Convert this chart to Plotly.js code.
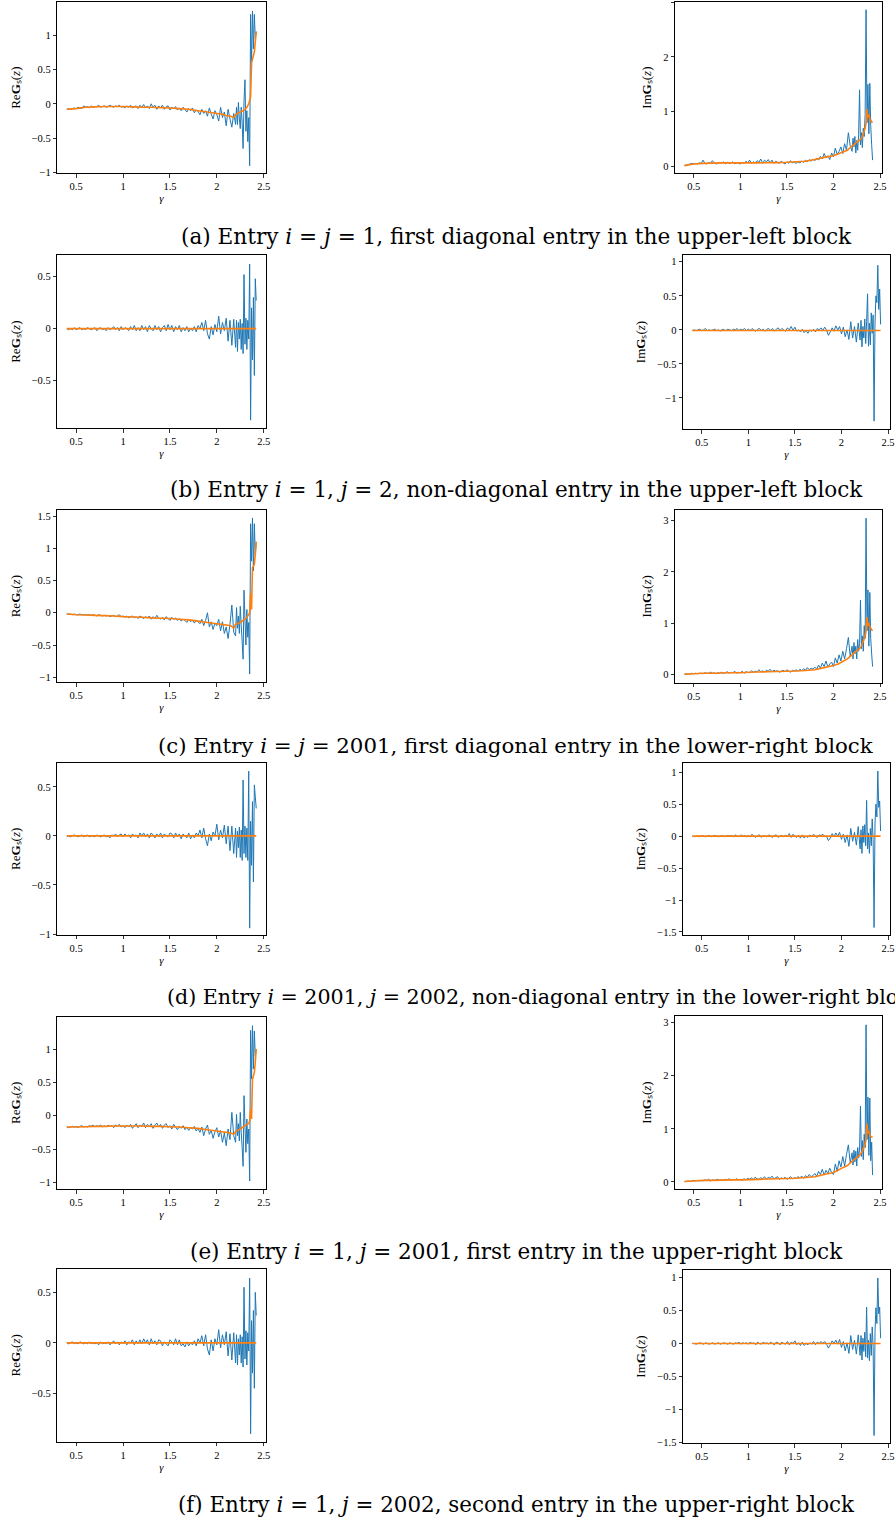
<!DOCTYPE html>
<html><head><meta charset="utf-8">
<script src="https://cdn.plot.ly/plotly-3.0.1.min.js"></script>
<style>html,body{margin:0;padding:0;background:#fff;}#chart{width:895px;height:1522px;}</style>
</head><body><div id="chart"></div>
<script>
// ---------- DATA ----------
const gamma = [
0.40,0.42,0.44,0.46,0.48,0.50,0.52,0.54,0.56,0.58,
0.60,0.62,0.64,0.66,0.68,0.70,0.72,0.74,0.76,0.78,
0.80,0.82,0.84,0.86,0.88,0.90,0.92,0.94,0.96,0.98,
1.00,1.02,1.04,1.06,1.08,1.10,1.12,1.14,1.16,1.18,
1.20,1.22,1.24,1.26,1.28,1.30,1.32,1.34,1.36,1.38,
1.40,1.42,1.44,1.46,1.48,1.50,1.52,1.54,1.56,1.58,
1.60,1.62,1.64,1.66,1.68,1.70,1.72,1.74,1.76,1.78,
1.80,1.82,1.84,1.86,1.88,1.90,1.92,1.94,1.96,1.98,
2.00,2.02,2.04,2.06,2.08,2.10,2.12,2.14,2.16,2.18,
2.20,
2.21,2.22,2.23,2.24,2.25,2.26,2.27,2.28,2.29,2.30,
2.31,2.32,2.33,2.34,2.35,2.36,2.37,2.38,2.39,2.40,2.41,2.42];

const gammaSmooth = [0.40,0.50,0.60,0.70,0.80,0.90,1.00,1.10,1.20,1.30,1.40,1.50,1.60,1.70,1.80,1.90,2.00,2.05,2.10,2.15,2.18,2.20,2.22,2.25,2.28,2.30,2.32,2.34,2.35,2.36,2.37,2.38,2.39,2.40,2.41,2.42];

// (a) i=j=1
const aReSample = [
-0.08,-0.07,-0.08,-0.07,-0.06,-0.07,-0.05,-0.06,-0.07,-0.03,
-0.05,-0.04,-0.06,-0.03,-0.05,-0.04,-0.04,-0.02,-0.05,-0.04,
-0.03,-0.05,-0.04,-0.02,-0.04,-0.05,-0.03,-0.04,-0.02,-0.05,
-0.04,-0.06,-0.03,-0.05,-0.02,-0.06,-0.04,-0.03,-0.07,-0.02,
-0.05,-0.01,-0.06,-0.03,-0.07,0.00,-0.05,-0.02,-0.08,-0.03,
-0.06,-0.02,-0.08,-0.04,-0.03,-0.09,-0.05,-0.07,-0.04,-0.09,
-0.06,-0.10,-0.05,-0.08,-0.12,-0.07,-0.10,-0.06,-0.13,-0.09,
-0.11,-0.16,-0.08,-0.14,-0.10,-0.18,-0.06,-0.15,-0.22,-0.10,
-0.16,-0.25,-0.05,-0.20,-0.12,-0.32,-0.08,-0.22,-0.34,-0.14,
-0.30,
-0.05,-0.30,0.02,-0.22,-0.36,-0.05,-0.28,-0.65,0.05,0.35,
-0.40,-0.10,-0.55,-0.20,-0.90,1.30,0.55,1.35,0.80,1.30,0.95,1.05];
const aReLimit = [-0.08,-0.07,-0.05,-0.045,-0.04,-0.04,-0.04,-0.045,-0.05,-0.05,-0.055,-0.06,-0.07,-0.08,-0.10,-0.12,-0.14,-0.15,-0.17,-0.18,-0.20,-0.16,-0.14,-0.12,-0.10,-0.08,-0.05,0.00,0.05,0.10,0.60,0.65,0.70,0.75,0.90,1.05];
const aImSample = [
0.02,0.03,0.04,0.05,0.06,0.05,0.06,0.05,0.07,0.06,
0.12,0.06,0.05,0.08,0.06,0.11,0.07,0.05,0.06,0.08,
0.06,0.09,0.05,0.08,0.06,0.07,0.09,0.05,0.07,0.06,
0.05,0.08,0.06,0.10,0.07,0.12,0.06,0.09,0.07,0.11,
0.08,0.14,0.06,0.12,0.09,0.13,0.07,0.12,0.06,0.10,
0.08,0.06,0.10,0.07,0.05,0.09,0.06,0.11,0.07,0.08,
0.06,0.09,0.07,0.10,0.08,0.12,0.09,0.13,0.10,0.14,
0.11,0.16,0.12,0.19,0.14,0.24,0.16,0.20,0.13,0.25,
0.18,0.34,0.22,0.28,0.36,0.24,0.42,0.30,0.62,0.38,
0.28,
0.52,0.36,0.55,0.25,0.48,0.30,0.58,1.40,0.40,0.62,
0.35,0.70,0.55,0.95,2.86,0.80,1.50,0.60,1.52,0.75,0.40,0.12];
const aImLimit = [0.02,0.05,0.06,0.065,0.07,0.07,0.07,0.07,0.07,0.075,0.075,0.08,0.09,0.10,0.13,0.17,0.20,0.23,0.27,0.30,0.35,0.38,0.40,0.45,0.48,0.52,0.60,0.70,0.80,1.05,0.90,0.95,0.85,0.85,0.82,0.80];

// (b) i=1, j=2
const bReSample = [
0.00,-0.01,0.00,-0.01,0.01,-0.01,0.00,0.01,-0.01,0.00,
-0.01,0.01,0.00,-0.01,0.00,0.01,-0.02,0.00,0.01,-0.01,
0.00,-0.02,0.01,-0.01,0.00,0.02,-0.01,0.01,-0.02,0.02,
-0.01,0.01,0.00,-0.02,0.02,-0.01,0.03,-0.02,0.01,-0.02,
0.03,-0.01,0.02,-0.03,0.03,0.00,-0.02,0.03,-0.01,0.02,
-0.03,0.01,0.03,-0.02,0.04,-0.01,0.03,-0.03,0.02,-0.01,
0.03,-0.03,0.01,-0.02,0.02,-0.03,0.00,-0.02,0.02,-0.03,
0.03,0.00,0.06,-0.02,0.08,-0.05,-0.10,0.02,-0.06,0.04,
-0.03,0.12,-0.05,0.06,-0.02,0.10,-0.12,0.08,-0.16,0.09,
-0.18,
0.08,-0.22,0.06,-0.10,0.09,-0.20,0.05,-0.24,0.52,-0.15,
0.10,-0.20,0.08,-0.10,0.62,-0.88,0.20,-0.30,0.30,-0.45,0.48,0.27];
const bReLimit = [0.00,0.00,0.00,0.00,0.00,0.00,0.00,0.00,0.00,0.00,0.00,0.00,0.00,0.00,0.00,0.00,0.00,0.00,0.00,0.00,0.00,0.00,0.00,0.00,0.00,0.00,0.00,0.00,0.00,0.00,0.00,0.00,0.00,0.00,0.00,0.00];
const bImSample = [
-0.01,0.00,-0.01,0.00,0.01,-0.01,0.00,0.02,-0.01,0.00,
-0.01,0.00,0.01,-0.01,0.00,-0.02,0.01,0.00,-0.01,0.01,
0.00,-0.01,0.01,0.00,0.02,-0.01,0.01,0.00,0.02,-0.01,
0.01,-0.01,0.02,0.00,-0.02,0.01,0.02,-0.01,0.01,-0.02,
0.01,0.02,-0.01,0.02,-0.02,0.01,0.03,-0.01,0.02,0.00,
-0.02,0.03,0.00,0.05,-0.01,0.04,-0.02,0.00,-0.03,0.01,
-0.04,-0.01,-0.05,0.00,-0.02,0.01,-0.03,0.02,0.00,0.03,
-0.01,0.04,0.00,-0.08,-0.03,0.03,-0.02,0.06,0.00,0.05,
-0.06,0.04,-0.10,0.00,-0.14,0.12,-0.12,0.05,-0.18,0.10,
-0.15,
0.14,-0.25,0.05,-0.12,0.16,-0.20,0.12,0.53,-0.24,0.10,
-0.22,0.25,-0.05,0.22,-1.34,0.10,0.50,0.40,0.95,0.30,0.60,0.08];
const bImLimit = [-0.01,-0.01,-0.01,-0.01,-0.01,-0.01,-0.01,-0.01,-0.01,-0.01,-0.01,-0.01,-0.01,-0.01,-0.01,-0.01,-0.01,-0.01,-0.01,-0.01,-0.01,-0.01,-0.01,-0.01,-0.01,-0.01,-0.01,-0.01,-0.01,-0.01,-0.01,-0.01,-0.01,-0.01,-0.01,-0.01];

// (c) i=j=2001
const cReSample = [
-0.02,-0.02,-0.02,-0.03,-0.02,-0.03,-0.03,-0.02,-0.03,-0.03,
-0.03,-0.04,-0.03,-0.04,-0.03,-0.04,-0.05,-0.03,-0.04,-0.05,
-0.04,-0.05,-0.04,-0.06,-0.05,-0.04,-0.06,-0.05,-0.03,-0.06,
-0.05,-0.07,-0.05,-0.08,-0.06,-0.05,-0.08,-0.06,-0.09,-0.05,
-0.07,-0.09,-0.06,-0.08,-0.05,-0.10,-0.06,-0.09,-0.04,-0.08,
-0.10,-0.07,-0.11,-0.06,-0.09,-0.12,-0.07,-0.10,-0.08,-0.12,
-0.09,-0.13,-0.10,-0.12,-0.15,-0.10,-0.14,-0.11,-0.16,-0.12,
-0.14,-0.17,-0.10,-0.20,-0.12,0.00,-0.22,-0.14,-0.26,-0.16,
-0.20,-0.10,-0.28,-0.14,-0.32,-0.22,-0.40,-0.18,0.12,-0.30,
-0.36,
0.08,-0.24,-0.05,-0.32,0.10,-0.20,-0.45,-0.72,0.35,-0.10,
-0.50,0.05,-0.38,-0.15,-0.95,1.38,0.80,1.47,0.65,1.38,0.90,1.10];
const cReLimit = [-0.02,-0.03,-0.035,-0.04,-0.045,-0.05,-0.06,-0.065,-0.07,-0.08,-0.085,-0.09,-0.10,-0.11,-0.13,-0.15,-0.17,-0.18,-0.19,-0.20,-0.24,-0.18,-0.17,-0.15,-0.12,-0.10,-0.07,-0.03,0.00,0.30,0.05,0.70,0.72,0.75,0.90,1.10];
const cImSample = [
0.00,0.01,0.00,0.01,0.02,0.01,0.02,0.01,0.02,0.02,
0.01,0.03,0.02,0.02,0.04,0.02,0.03,0.01,0.03,0.02,
0.04,0.02,0.03,0.05,0.02,0.04,0.03,0.06,0.02,0.04,
0.03,0.06,0.02,0.05,0.04,0.03,0.07,0.04,0.06,0.05,
0.09,0.05,0.07,0.04,0.08,0.06,0.10,0.05,0.08,0.06,
0.07,0.04,0.06,0.08,0.05,0.09,0.06,0.04,0.08,0.06,
0.09,0.06,0.10,0.07,0.11,0.08,0.13,0.09,0.12,0.10,
0.14,0.10,0.18,0.12,0.22,0.15,0.26,0.14,0.20,0.24,
0.15,0.32,0.22,0.38,0.26,0.45,0.30,0.50,0.72,0.35,
0.55,
0.30,0.62,0.40,0.55,0.30,0.68,0.45,0.60,1.45,0.50,
0.75,0.45,0.95,0.70,3.05,0.85,1.65,0.55,1.60,0.70,0.40,0.15];
const cImLimit = [0.00,0.01,0.02,0.02,0.025,0.03,0.03,0.04,0.045,0.05,0.055,0.06,0.065,0.075,0.09,0.13,0.17,0.20,0.25,0.30,0.35,0.38,0.42,0.46,0.50,0.55,0.65,0.75,0.85,1.12,0.95,1.00,0.92,0.90,0.87,0.85];

// (d) i=2001, j=2002
const dReSample = [
-0.01,0.00,-0.01,0.00,0.01,0.00,-0.01,0.00,0.01,-0.01,
0.00,0.01,-0.01,0.00,0.00,-0.01,0.01,0.00,-0.01,0.00,
0.01,-0.01,0.00,-0.02,0.01,0.00,0.02,-0.01,0.01,0.02,
-0.01,0.02,0.00,0.01,-0.02,0.02,0.00,0.01,-0.02,0.03,
0.00,0.03,-0.01,0.02,-0.02,0.03,0.01,-0.02,0.02,-0.01,
0.03,-0.02,0.02,0.00,-0.01,0.03,0.02,-0.02,0.03,-0.01,
0.02,-0.03,0.02,0.00,-0.02,0.03,-0.03,0.01,-0.02,0.03,
0.00,0.06,-0.02,0.08,-0.03,-0.10,0.02,-0.05,0.04,0.00,
0.12,-0.04,0.06,-0.02,0.11,-0.08,0.10,-0.15,0.10,-0.18,
0.08,
-0.22,0.05,-0.12,0.09,-0.22,0.06,-0.25,0.57,-0.18,0.10,
-0.22,0.08,-0.25,0.66,-0.94,0.15,-0.30,0.35,-0.47,0.52,0.40,0.28];
const dReLimit = [0.00,0.00,0.00,0.00,0.00,0.00,0.00,0.00,0.00,0.00,0.00,0.00,0.00,0.00,0.00,0.00,0.00,0.00,0.00,0.00,0.00,0.00,0.00,0.00,0.00,0.00,0.00,0.00,0.00,0.00,0.00,0.00,0.00,0.00,0.00,0.00];
const dImSample = [
0.00,-0.01,0.00,0.00,-0.01,0.01,0.00,-0.01,0.00,0.01,
-0.01,0.00,0.01,0.00,-0.01,0.00,0.01,-0.01,0.00,0.01,
0.00,0.01,-0.01,0.02,0.00,-0.01,0.02,0.00,0.01,-0.01,
0.01,-0.01,0.03,0.00,-0.02,0.01,0.02,-0.02,0.01,0.00,
-0.01,0.02,0.00,-0.02,0.01,0.02,-0.02,0.00,0.01,-0.01,
0.02,-0.01,0.04,-0.02,0.03,0.00,-0.02,0.01,-0.03,0.02,
-0.03,0.00,-0.02,0.02,-0.01,0.03,0.00,-0.02,0.02,0.01,
0.03,-0.01,0.00,-0.07,-0.03,0.04,-0.01,0.05,0.00,0.06,
-0.05,0.03,-0.10,0.02,-0.16,0.12,-0.08,0.06,-0.14,0.15,
-0.20,
0.10,-0.27,0.16,-0.10,0.18,-0.15,0.56,-0.20,0.05,-0.27,
0.12,-0.15,0.27,-0.05,-1.43,0.20,0.50,0.30,1.02,0.45,0.55,0.08];
const dImLimit = [0.00,0.00,0.00,0.00,0.00,0.00,0.00,0.00,0.00,0.00,0.00,0.00,0.00,0.00,0.00,0.00,0.00,0.00,0.00,0.00,0.00,0.00,0.00,0.00,0.00,0.00,0.00,0.00,0.00,0.00,0.00,0.00,0.00,0.00,0.00,0.00];

// (e) i=1, j=2001
const eReSample = [
-0.17,-0.18,-0.17,-0.16,-0.17,-0.16,-0.18,-0.16,-0.15,-0.17,
-0.16,-0.17,-0.15,-0.16,-0.14,-0.17,-0.15,-0.16,-0.14,-0.17,
-0.15,-0.17,-0.14,-0.16,-0.15,-0.18,-0.14,-0.16,-0.13,-0.17,
-0.15,-0.18,-0.14,-0.17,-0.13,-0.19,-0.15,-0.12,-0.18,-0.14,
-0.16,-0.11,-0.18,-0.13,-0.17,-0.12,-0.19,-0.14,-0.11,-0.17,
-0.13,-0.19,-0.14,-0.12,-0.18,-0.15,-0.20,-0.13,-0.17,-0.21,
-0.16,-0.19,-0.15,-0.21,-0.17,-0.22,-0.18,-0.20,-0.16,-0.23,
-0.19,-0.25,-0.17,-0.30,-0.20,-0.14,-0.28,-0.22,-0.34,-0.24,
-0.18,-0.32,-0.22,-0.40,-0.26,-0.45,-0.20,-0.36,0.05,-0.30,
-0.40,
0.02,-0.30,-0.12,-0.38,0.05,-0.25,-0.48,-0.76,0.30,-0.15,
-0.55,-0.05,-0.42,-0.20,-0.98,1.28,0.55,1.35,0.70,1.27,0.90,1.00];
const eReLimit = [-0.17,-0.17,-0.165,-0.16,-0.16,-0.155,-0.155,-0.155,-0.155,-0.16,-0.16,-0.165,-0.17,-0.18,-0.19,-0.21,-0.23,-0.24,-0.25,-0.26,-0.28,-0.24,-0.22,-0.20,-0.17,-0.15,-0.13,-0.12,-0.08,0.10,-0.05,0.55,0.60,0.65,0.80,1.00];
const eImSample = [
0.01,0.01,0.02,0.01,0.02,0.03,0.02,0.03,0.02,0.03,
0.02,0.04,0.03,0.05,0.02,0.04,0.03,0.04,0.05,0.03,
0.04,0.03,0.05,0.04,0.06,0.03,0.05,0.04,0.06,0.04,
0.05,0.03,0.06,0.04,0.07,0.05,0.08,0.04,0.09,0.06,
0.05,0.08,0.06,0.10,0.05,0.09,0.07,0.11,0.06,0.08,
0.10,0.05,0.08,0.06,0.09,0.05,0.07,0.10,0.06,0.08,
0.07,0.10,0.08,0.11,0.07,0.12,0.09,0.14,0.10,0.12,
0.16,0.11,0.20,0.14,0.24,0.13,0.22,0.16,0.26,0.18,
0.14,0.34,0.20,0.40,0.28,0.48,0.30,0.52,0.70,0.36,
0.55,
0.32,0.60,0.38,0.58,0.30,0.65,0.45,0.62,1.43,0.48,
0.78,0.42,0.90,0.65,2.96,0.80,1.60,0.50,1.58,0.40,0.75,0.13];
const eImLimit = [0.01,0.02,0.03,0.03,0.035,0.04,0.04,0.045,0.05,0.055,0.06,0.065,0.07,0.085,0.10,0.14,0.18,0.22,0.27,0.31,0.36,0.39,0.42,0.46,0.50,0.55,0.62,0.72,0.80,1.10,0.92,0.95,0.88,0.86,0.85,0.84];

// (f) i=1, j=2002
const fReSample = [
0.00,-0.01,0.00,0.01,-0.01,0.00,-0.01,0.01,0.00,-0.01,
0.00,-0.01,0.01,-0.01,0.00,-0.01,0.00,-0.02,0.01,-0.01,
0.00,-0.01,0.01,-0.02,0.00,0.02,-0.01,0.01,-0.02,0.01,
-0.01,0.02,-0.02,0.01,0.00,0.03,-0.02,0.02,-0.01,0.03,
-0.01,0.04,0.00,0.03,-0.02,0.04,-0.01,0.02,-0.02,0.03,
0.02,-0.03,0.01,-0.01,-0.03,0.03,0.01,-0.02,0.04,-0.02,
0.03,-0.03,-0.01,-0.04,0.01,-0.03,0.00,-0.02,0.02,-0.03,
0.04,0.00,0.07,-0.03,0.08,-0.06,-0.12,0.03,-0.08,0.04,
-0.02,0.13,-0.05,0.08,-0.02,0.11,-0.13,0.09,-0.17,0.10,
-0.20,
0.08,-0.22,0.04,-0.12,0.08,-0.20,0.06,-0.24,0.55,-0.16,
0.12,-0.22,0.10,-0.08,0.64,-0.90,0.22,-0.30,0.32,-0.45,0.50,0.27];
const fReLimit = [0.00,0.00,0.00,0.00,0.00,0.00,0.00,0.00,0.00,0.00,0.00,0.00,0.00,0.00,0.00,0.00,0.00,0.00,0.00,0.00,0.00,0.00,0.00,0.00,0.00,0.00,0.00,0.00,0.00,0.00,0.00,0.00,0.00,0.00,0.00,0.00];
const fImSample = [
0.00,0.00,-0.01,0.00,0.01,0.00,-0.01,0.01,0.00,-0.01,
0.00,0.01,-0.01,0.00,0.01,-0.01,0.00,0.01,0.00,-0.01,
0.01,0.00,-0.01,0.01,0.00,0.02,-0.01,0.01,0.00,0.01,
-0.01,0.02,0.00,0.01,-0.02,0.02,0.00,-0.01,0.02,0.00,
0.01,-0.01,0.02,0.00,-0.02,0.02,0.01,-0.02,0.02,0.00,
-0.01,0.03,-0.02,0.02,0.00,0.04,-0.02,0.01,-0.03,0.02,
-0.03,0.00,-0.02,0.01,-0.01,0.03,-0.02,0.02,0.00,0.03,
0.00,0.03,-0.01,-0.07,-0.02,0.04,0.00,0.05,-0.01,0.06,
-0.06,0.03,-0.11,0.01,-0.15,0.12,-0.09,0.05,-0.16,0.13,
-0.18,
0.12,-0.25,0.08,-0.12,0.17,-0.20,0.55,-0.22,0.05,-0.26,
0.15,-0.18,0.25,-0.05,-1.39,0.18,0.54,0.30,0.99,0.45,0.55,0.08];
const fImLimit = [0.00,0.00,0.00,0.00,0.00,0.00,0.00,0.00,0.00,0.00,0.00,0.00,0.00,0.00,0.00,0.00,0.00,0.00,0.00,0.00,0.00,0.00,0.00,0.00,0.00,0.00,0.00,0.00,0.00,0.00,0.00,0.00,0.00,0.00,0.00,0.00];

// tick labels
const xTickVals = [0.5, 1, 1.5, 2, 2.5];
const xTickText = ["0.5", "1", "1.5", "2", "2.5"];

const captions = [
  "(a) Entry <i>i</i> = <i>j</i> = 1, first diagonal entry in the upper-left block",
  "(b) Entry <i>i</i> = 1, <i>j</i> = 2, non-diagonal entry in the upper-left block",
  "(c) Entry <i>i</i> = <i>j</i> = 2001, first diagonal entry in the lower-right block",
  "(d) Entry <i>i</i> = 2001, <i>j</i> = 2002, non-diagonal entry in the lower-right block",
  "(e) Entry <i>i</i> = 1, <i>j</i> = 2001, first entry in the upper-right block",
  "(f) Entry <i>i</i> = 1, <i>j</i> = 2002, second entry in the upper-right block"
];

// ---------- LAYOUT / PANELS ----------
const W = 895, H = 1522;
function fmt(v){ return (v < 0 ? "\u2212" : "") + String(Math.abs(v)); }

// frames in pixels: [left, right, top, bottom]
const panels = [
  {s: aReSample, l: aReLimit, f: [57.3, 265.7, 2, 173.3],   r: [-1.01, 1.48],  t: [-1, -0.5, 0, 0.5, 1], lab: "Re"},
  {s: aImSample, l: aImLimit, f: [675, 882, 2, 173.3],      r: [-0.12, 3.0],   t: [0, 1, 2, 3], lab: "Im"},
  {s: bReSample, l: bReLimit, f: [57.3, 265.7, 255, 428.3], r: [-0.958, 0.708], t: [-0.5, 0, 0.5], lab: "Re"},
  {s: bImSample, l: bImLimit, f: [683, 890, 255, 429],      r: [-1.456, 1.1],  t: [-1, -0.5, 0, 0.5, 1], lab: "Im"},
  {s: cReSample, l: cReLimit, f: [57.3, 265.7, 510, 682.3], r: [-1.078, 1.593], t: [-1, -0.5, 0, 0.5, 1, 1.5], lab: "Re"},
  {s: cImSample, l: cImLimit, f: [675, 882, 510, 682.7],    r: [-0.164, 3.21], t: [0, 1, 2, 3], lab: "Im"},
  {s: dReSample, l: dReLimit, f: [57.3, 265.7, 763, 934.7], r: [-1.007, 0.743], t: [-1, -0.5, 0, 0.5], lab: "Re"},
  {s: dImSample, l: dImLimit, f: [683, 890, 763, 935.3],    r: [-1.552, 1.145], t: [-1.5, -1, -0.5, 0, 0.5, 1], lab: "Im"},
  {s: eReSample, l: eReLimit, f: [57.3, 265.7, 1016.7, 1189], r: [-1.1, 1.485], t: [-1, -0.5, 0, 0.5, 1], lab: "Re"},
  {s: eImSample, l: eImLimit, f: [675, 882, 1016, 1189],    r: [-0.132, 3.126], t: [0, 1, 2, 3], lab: "Im"},
  {s: fReSample, l: fReLimit, f: [57.3, 265.7, 1269, 1441.7], r: [-0.979, 0.731], t: [-0.5, 0, 0.5], lab: "Re"},
  {s: fImSample, l: fImLimit, f: [683, 890, 1270, 1443],    r: [-1.503, 1.11], t: [-1.5, -1, -0.5, 0, 0.5, 1], lab: "Im"}
];
const captionY = [236, 490, 745, 997, 1251, 1504];
const captionSize = [21.6, 21.5, 21.3, 20.6, 21.5, 21.4];

const traces = [];
const layout = {
  width: W, height: H, margin: {l: 0, r: 0, t: 0, b: 0},
  paper_bgcolor: "#fff", plot_bgcolor: "#fff", showlegend: false,
  font: {family: "Liberation Serif, serif", color: "#000"},
  annotations: []
};
const tickFont = {family: "Liberation Serif, serif", size: 10.5, color: "#000"};

panels.forEach((p, i) => {
  if (p.s.length !== gamma.length) throw new Error("sample length mismatch panel " + i + ": " + p.s.length);
  if (p.l.length !== gammaSmooth.length) throw new Error("limit length mismatch panel " + i + ": " + p.l.length);
  const k = i + 1;
  const xa = "x" + (k === 1 ? "" : k), ya = "y" + (k === 1 ? "" : k);
  const [L, R, T, B] = p.f;
  traces.push({x: gamma, y: p.s, xaxis: xa, yaxis: ya, type: "scatter", mode: "lines",
    line: {color: "#1f77b4", width: 1, simplify: false}, hoverinfo: "skip"});
  traces.push({x: gammaSmooth, y: p.l, xaxis: xa, yaxis: ya, type: "scatter", mode: "lines",
    line: {color: "#ff7f0e", width: 1.6, simplify: false}, hoverinfo: "skip"});
  const common = {showline: true, mirror: true, linecolor: "#000", linewidth: 1,
    ticks: "outside", ticklen: 3.5, tickwidth: 0.8, tickcolor: "#000",
    showgrid: false, zeroline: false, tickfont: tickFont, fixedrange: true, tickmode: "array",
    automargin: false};
  layout["xaxis" + (k === 1 ? "" : k)] = Object.assign({}, common, {
    domain: [L / W, R / W], range: [0.299, 2.521], anchor: ya,
    tickvals: xTickVals, ticktext: xTickText,
    title: {text: "<i>γ</i>", font: {size: 11, family: "Liberation Serif, serif", color: "#000"}, standoff: 2}});
  layout["yaxis" + (k === 1 ? "" : k)] = Object.assign({}, common, {
    domain: [1 - B / H, 1 - T / H], range: p.r, anchor: xa,
    tickvals: p.t, ticktext: p.t.map(fmt),
    title: {text: p.lab + "<b>G</b>\u209B(<i>z</i>)", font: {size: 13, family: "Liberation Serif, serif", color: "#000"}, standoff: 8}});
});

captions.forEach((c, i) => {
  const isD = i === 3;
  layout.annotations.push({xref: "paper", yref: "paper",
    x: (isD ? 165 : 516) / W, y: 1 - captionY[i] / H, text: c, showarrow: false,
    xanchor: isD ? "left" : "center", yanchor: "middle",
    font: {size: captionSize[i], family: "DejaVu Serif, serif", color: "#000"}});
});

Plotly.newPlot("chart", traces, layout, {staticPlot: true, displayModeBar: false});
</script>
</body></html>
